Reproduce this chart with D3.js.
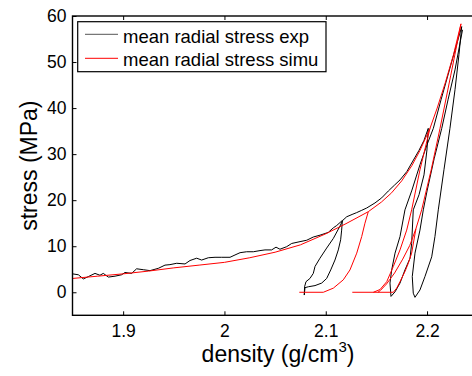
<!DOCTYPE html>
<html>
<head>
<meta charset="utf-8">
<script src="https://cdn.jsdelivr.net/npm/d3@7"></script>
<style>
  body { margin: 0; background: #fff; }
  text { font-family: "Liberation Sans", Arial, sans-serif; fill: #000; }
  .tick text { font-size: 17.5px; }
  .axisLabel { font-size: 23px; }
  .legend text { font-size: 18.5px; }
  .exp { fill: none; stroke: #000; stroke-width: 1; }
  .simu { fill: none; stroke: #ff0000; stroke-width: 1; }
</style>
</head>
<body>
<svg width="472" height="376"></svg>
<script>
// density (g/cm3), stress (MPa)
const expLoad1 = [[1.850,4.0],[1.8558,3.8],[1.8607,2.9],[1.8656,3.4],[1.8722,4.1],[1.8771,3.7],[1.8804,4.1],[1.8854,3.3],[1.8920,3.5],[1.8985,3.8],[1.9018,4.3],[1.9084,4.1],[1.9133,5.1],[1.9199,4.9],[1.9265,4.7],[1.9347,5.2],[1.9413,5.9],[1.9462,6.0],[1.9529,6.3],[1.9611,6.15],[1.9660,6.9],[1.9726,7.4],[1.9775,7.0],[1.9841,7.5],[1.9907,7.6],[1.9973,7.6],[2.0055,7.6],[2.0104,8.1],[2.0154,8.6],[2.0219,8.8],[2.0285,8.8],[2.0351,9.05],[2.0400,9.2],[2.0466,9.2],[2.0509,9.8],[2.0548,9.35],[2.0614,9.9],[2.0664,10.6],[2.0746,11.0],[2.0812,11.3],[2.0877,12.0],[2.0943,12.4],[2.1025,13.0],[2.1075,14.0],[2.1108,14.5],[2.1164,15.6]];
const expUnload1 = [[2.1164,15.6],[2.1157,13.5],[2.1147,11.4],[2.1124,9.2],[2.1091,7.0],[2.1049,4.85],[2.1009,3.0],[2.0960,2.0],[2.0894,1.45],[2.0828,1.2],[2.0795,1.0],[2.0788,-0.6]];
const expReload1 = [[2.0788,-0.6],[2.0791,1.2],[2.0805,2.3],[2.0844,3.0],[2.0877,4.1],[2.0894,5.6],[2.0943,7.4],[2.1009,9.6],[2.1075,11.7],[2.1141,14.4],[2.1167,15.6]];
const expLoad2 = [[2.1167,15.6],[2.1207,16.4],[2.1260,16.9],[2.1305,17.3],[2.1355,17.8],[2.1404,18.3],[2.1486,19.4],[2.1552,20.5],[2.1618,22.0],[2.1680,23.3],[2.1733,24.4],[2.1800,26.2],[2.1860,28.5],[2.1920,30.8],[2.1970,33.0],[2.2012,35.6]];
const expUnload2 = [[2.2012,35.6],[2.1999,30.9],[2.1970,25.5],[2.1921,21.2],[2.1864,17.9],[2.1848,10.6],[2.1832,7.4],[2.1782,4.85],[2.1733,2.0],[2.1684,0.1],[2.1644,-0.9]];
const expReload2 = [[2.1644,-0.9],[2.1634,2.0],[2.1651,4.85],[2.1684,8.5],[2.1733,12.1],[2.1782,17.9],[2.1851,22.2],[2.1930,27.7],[2.1999,32.0],[2.2062,35.6],[2.2138,41.8],[2.2207,47.2],[2.2276,52.6],[2.2342,57.7]];
const expUnload3 = [[2.2342,57.7],[2.2315,51.6],[2.2276,44.0],[2.2226,35.6],[2.2167,26.6],[2.2111,17.9],[2.2078,12.1],[2.2046,7.7],[2.1979,3.4],[2.1930,0.5],[2.1881,-1.1]];
const expReload3 = [[2.1881,-1.1],[2.1864,-0.2],[2.1854,3.4],[2.1881,8.5],[2.1930,13.5],[2.1963,17.9],[2.2000,22.0],[2.2070,29.0],[2.2145,35.6],[2.2207,41.8],[2.2276,48.3],[2.2350,57.0]];

const simuLoad = [[1.850,3.0],[1.875,3.5],[1.900,4.0],[1.925,4.6],[1.950,5.3],[1.975,5.9],[2.000,6.5],[2.025,7.5],[2.050,8.7],[2.075,10.3],[2.100,12.7],[2.120,14.9],[2.142,17.5],[2.155,19.6],[2.165,21.6],[2.175,24.2],[2.185,27.5],[2.193,30.8],[2.2029,35.6],[2.210,40.0],[2.218,45.5],[2.226,51.5],[2.2335,58.3]];
const simuUnload1 = [[2.142,17.5],[2.1387,15.0],[2.1355,12.1],[2.1306,8.5],[2.1239,4.85],[2.1173,2.7],[2.1075,0.9],[2.0976,0]];
const simuFlat1 = [[2.0976,0],[2.0739,0]];
const simuUnload2 = [[2.2029,35.6],[2.1930,26.6],[2.1848,17.9],[2.1799,13.5],[2.1733,9.2],[2.1667,5.6],[2.1602,2.3],[2.1536,0.6],[2.1470,0]];
const simuFlat2 = [[2.1262,0],[2.1667,0]];
const simuUnload3 = [[2.2335,58.3],[2.2233,47.0],[2.2128,35.6],[2.2040,26.5],[2.1947,17.9],[2.1890,13.8],[2.1830,10.2],[2.1760,7.2],[2.1680,4.2],[2.1600,1.8],[2.1540,0.4],[2.1515,0]];
const simuReload3 = [[2.1667,0],[2.1700,0.9],[2.1733,2.3],[2.1782,4.5],[2.1815,6.3],[2.1848,8.5],[2.1890,13.8]];

const xTicks = [1.9, 2, 2.1, 2.2];
const yTicks = [0, 10, 20, 30, 40, 50, 60];
const legendLabels = ["mean radial stress exp", "mean radial stress simu"];

const svg = d3.select("svg");
const box = { left: 72.5, right: 477.7, top: 16, bottom: 315.3 };

const xScale = d3.scaleLinear().domain([1.85, 2.25]).range([box.left, box.right]);
const yScale = d3.scaleLinear().domain([-5, 60]).range([box.bottom, box.top]);

const line = d3.line().x((d) => xScale(d[0])).y((d) => yScale(d[1]));

const plot = svg.append("g");
[expLoad1, expUnload1, expReload1, expLoad2, expUnload2, expReload2, expUnload3, expReload3]
  .forEach((seg) => plot.append("path").attr("class", "exp").attr("d", line(seg)));
[simuLoad, simuUnload1, simuFlat1, simuUnload2, simuFlat2, simuUnload3, simuReload3]
  .forEach((seg) => plot.append("path").attr("class", "simu").attr("d", line(seg)));

// axes, matlab style: ticks pointing inwards, box around
const fmt = d3.format("");
const xAxisB = d3.axisBottom(xScale).tickValues(xTicks).tickFormat(fmt).tickSizeInner(-4).tickSizeOuter(0).tickPadding(9);
const xAxisT = d3.axisTop(xScale).tickValues(xTicks).tickFormat("").tickSizeInner(-4).tickSizeOuter(0);
const yAxisL = d3.axisLeft(yScale).tickValues(yTicks).tickFormat(fmt).tickSizeInner(-4).tickSizeOuter(0).tickPadding(6);

const xg = svg.append("g").attr("transform", `translate(0,${box.bottom})`).call(xAxisB);
const xgt = svg.append("g").attr("transform", `translate(0,${box.top})`).call(xAxisT);
const yg = svg.append("g").attr("transform", `translate(${box.left},0)`).call(yAxisL);
[xg, xgt, yg].forEach((g) => {
  g.select(".domain").remove();
  g.selectAll(".tick line").attr("stroke", "#000");
});

svg.append("rect")
  .attr("x", box.left).attr("y", box.top)
  .attr("width", box.right - box.left).attr("height", box.bottom - box.top)
  .attr("fill", "none").attr("stroke", "#000").attr("stroke-width", 1.4);

// axis labels
const xLabel = svg.append("text").attr("class", "axisLabel")
  .attr("x", 278).attr("y", 362).attr("text-anchor", "middle");
xLabel.append("tspan").text("density (g/cm");
xLabel.append("tspan").attr("font-size", "15px").attr("dy", -10).text("3");
xLabel.append("tspan").attr("dy", 10).text(")");

svg.append("text").attr("class", "axisLabel")
  .attr("transform", `translate(37,${(box.top + box.bottom) / 2}) rotate(-90)`)
  .attr("text-anchor", "middle")
  .text("stress (MPa)");

// legend
const legend = svg.append("g").attr("class", "legend");
legend.append("rect")
  .attr("x", 77.7).attr("y", 21.7).attr("width", 248.3).attr("height", 50)
  .attr("fill", "#fff").attr("stroke", "#000").attr("stroke-width", 1.2);
legendLabels.forEach((label, i) => {
  const yy = 34.3 + i * 24;
  legend.append("line")
    .attr("x1", 85).attr("x2", 118).attr("y1", yy).attr("y2", yy)
    .attr("stroke", i === 0 ? "#555" : "#ff0000").attr("stroke-width", 1);
  legend.append("text").attr("x", 123).attr("y", 42.7 + i * 23).text(label);
});
</script>
</body>
</html>
